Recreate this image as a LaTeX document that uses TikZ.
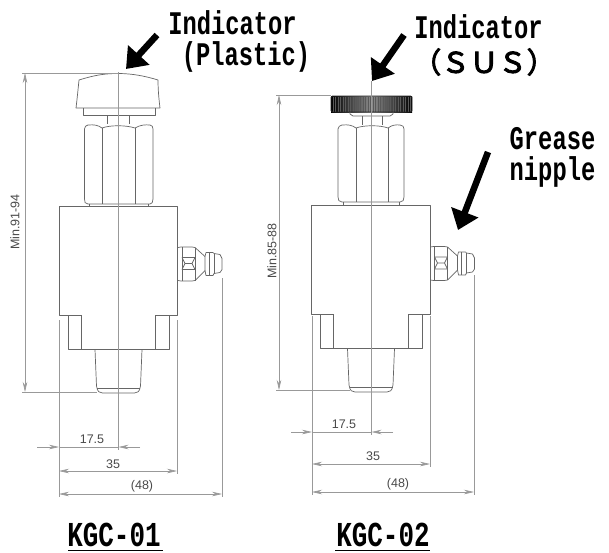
\documentclass[tikz,border=0pt]{standalone}
\usepackage{fontspec}
\setmainfont{Liberation Sans}
\newfontfamily\labelmono{Liberation Mono}
\newfontfamily\cjkgothic{Noto Sans CJK JP}
\usetikzlibrary{arrows.meta}
\definecolor{partline}{HTML}{666666}
\definecolor{dimline}{HTML}{999999}
\definecolor{dimtext}{HTML}{4A4A4A}
\tikzset{
  part/.style={draw=partline,line width=0.7pt,line join=round},
  centerln/.style={draw=dimline,line width=0.6pt},
  extln/.style={draw=dimline,line width=0.6pt},
  dimln/.style={draw=dimline,line width=0.6pt,{Stealth[length=10pt,width=4.5pt]}-{Stealth[length=10pt,width=4.5pt]}},
  dimout/.style={draw=dimline,line width=0.6pt,-{Stealth[length=10pt,width=4.5pt]}},
  dimtxt/.style={font=\fontsize{12.5}{14}\selectfont,text=dimtext,inner sep=0pt},
  callout/.style={draw=black,line width=6.5pt,-{Triangle[length=19pt,width=28pt]}},
  monolabel/.style={font=\labelmono\bfseries\fontsize{33}{36}\selectfont,xscale=0.72,transform shape,inner sep=0pt,text=black},
  fulllabel/.style={font=\cjkgothic\fontsize{28.5}{31}\selectfont,inner sep=0pt,text=black},
  modelname/.style={font=\labelmono\bfseries\fontsize{35}{38}\selectfont,xscale=0.74,transform shape,inner sep=0pt,text=black},
}
\newcommand{\drawnipple}[2]{%
  \begin{scope}[shift={(#1,#2)}]
    \draw[part] (0,-16) -- (3,-16.5) -- (14,-16.5) -- (17,-16) -- (27,-7) -- (27,7) -- (17,17) -- (14,17.5) -- (3,17.5) -- (0,17) ;
    \draw[part] (4,-16.5) -- (4,17.5) (17,-16) -- (17,17);
    \draw[part] (4,-6) -- (7,0) -- (4,6) (17,-6) -- (14,0) -- (17,6) (7,0) -- (14,0) (4,-6) -- (17,-6) (4,6) -- (17,6);
    \draw[part] (27,-7) -- (28,-11) -- (35,-11) -- (36,-10) -- (42,-9) -- (44,-5) -- (44,6) -- (42,9) -- (36,10) -- (35,12) -- (28,12) -- (27,7);
    \draw[part] (31,-11) -- (31,12) (36,-10) -- (36,10);
  \end{scope}}
\newcommand{\drawbody}[1]{%
  \begin{scope}[shift={(#1,0)}]
    \draw[part] (-37.5,109) -- (-59.5,109) -- (-59.5,0) -- (59,0) -- (59,109) -- (37,109);
    \draw[part] (-50.5,109) -- (-50.5,143.5) -- (51,143.5) -- (51,109);
    \draw[part] (-37.5,109) -- (-37.5,143.5) (37,109) -- (37,143.5);
    \draw[part] (-23.5,143.5) -- (-22,180) .. controls (-21,186) and (-19,187) .. (-16,187) -- (16,187) .. controls (19,187) and (21,186) .. (22,180) -- (23.5,143.5);
    \draw[part] (-21.5,182) -- (21.5,182);
  \end{scope}}
\begin{document}
\begin{tikzpicture}[x=1pt,y=-1pt]
\useasboundingbox (0,0) rectangle (609,552);
\fill[white] (0,0) rectangle (609,552);

% ---- left unit KGC-01
\begin{scope}[shift={(0,206)}]\drawbody{118.5}\end{scope}
\drawnipple{178}{263.5}
\draw[part] (79,80) .. controls (95,75) and (105,73.5) .. (118,73.5) .. controls (132,73.5) and (145,76) .. (158,80);
\draw[part] (79,80) .. controls (78,90) and (77,100) .. (76,108) -- (160,108) .. controls (159,100) and (158,90) .. (158,80);
\draw[part] (83,108) -- (83,115) -- (155,115) -- (155,108);
\draw[part] (107,115) -- (107,124) (129,115) -- (129,124);
\draw[part] (88,204) .. controls (85,204) and (84.5,202) .. (84.5,199) -- (84.5,129) .. controls (84.5,127) and (86,125) .. (88,125) .. controls (94,124.5) and (98,125) .. (102,128) .. controls (110,125) and (126,125) .. (135,128) .. controls (140,125) and (145,124.5) .. (150,125) .. controls (152,125) and (153,127) .. (153,129) -- (153,199) .. controls (153,202) and (152,204) .. (150,204) -- cycle;
\draw[part] (102,128) -- (102,204) (135.5,128) -- (135.5,204);
\draw[part] (89,204) -- (89,206) (148,204) -- (148,206);
\coordinate (lctop) at (118.5,72);
\coordinate (lcbot) at (118.5,450);
\draw[centerln] (lctop) -- (lcbot);

\coordinate (lha) at (22,73);
\coordinate (lhb) at (118,73);
\coordinate (lla) at (22,392);
\coordinate (llb) at (97,392);
\draw[extln] (lha) -- (lhb) (lla) -- (llb);
\coordinate (lvt) at (25,73);
\coordinate (lvb) at (25,392);
\draw[dimln] (lvt) -- (lvb);
\node[dimtxt,rotate=90] (lminlabel) at (15,222) {Min.91-94};

\coordinate (lx0) at (59,320);
\coordinate (lx0b) at (59,497);
\coordinate (lx1) at (177,320);
\coordinate (lx1b) at (177,474);
\coordinate (lx2) at (222,278);
\coordinate (lx2b) at (222,497);
\draw[extln] (lx0) -- (lx0b) (lx1) -- (lx1b) (lx2) -- (lx2b);
\coordinate (la1) at (37,447);
\coordinate (la2) at (59,447);
\coordinate (la3) at (140,447);
\coordinate (la4) at (118.5,447);
\draw[dimout] (la1) -- (la2);
\draw[dimout] (la3) -- (la4);
\draw[extln] (la2) -- (la4);
\node[dimtxt] (l175) at (92,439) {17.5};
\coordinate (lb1) at (59,471);
\coordinate (lb2) at (177,471);
\draw[dimln] (lb1) -- (lb2);
\node[dimtxt] (l35) at (113,464) {35};
\coordinate (lc1) at (59,494);
\coordinate (lc2) at (222,494);
\draw[dimln] (lc1) -- (lc2);
\node[dimtxt] (l48) at (142,486) {(48)};

% ---- right unit KGC-02
\begin{scope}[shift={(0,205)}]\drawbody{371}\end{scope}
\drawnipple{430.5}{263}
\shade[left color=black,right color=black,middle color=black!45] (331,96.5) rectangle (412,112);
\foreach \kx in {333,335.5,...,411}{\draw[black!65,line width=0.6pt] (\kx,96.5) -- (\kx,112);}
\draw[black!85,line width=0.8pt,rounded corners=1.5pt] (331,96) rectangle (412,112);
\draw[part] (350,112) -- (350,114) -- (353,116) -- (390,116) -- (393,114) -- (393,112);
\draw[part] (362,116) -- (362,125) (382,116) -- (382,125);
\draw[part] (342,202) .. controls (339,202) and (338,200) .. (338,197) -- (338,129) .. controls (338,127) and (340,125) .. (342,125) .. controls (348,124.5) and (352,125) .. (356,128) .. controls (364,125) and (380,125) .. (388,128) .. controls (392,125) and (396,124.5) .. (400,125) .. controls (403,125) and (404,127) .. (404,129) -- (404,197) .. controls (404,200) and (403,202) .. (400,202) -- cycle;
\draw[part] (356,128) -- (356,202) (388,128) -- (388,202);
\draw[part] (343,202) -- (343,205) (399,202) -- (399,205);
\coordinate (rctop) at (371.5,81);
\coordinate (rcbot) at (371.5,435);
\draw[centerln] (rctop) -- (rcbot);

\coordinate (rha) at (276,95);
\coordinate (rhb) at (331,95);
\coordinate (rla) at (276,390);
\coordinate (rlb) at (350,390);
\draw[extln] (rha) -- (rhb) (rla) -- (rlb);
\coordinate (rvt) at (279,95);
\coordinate (rvb) at (279,390);
\draw[dimln] (rvt) -- (rvb);
\node[dimtxt,rotate=90] (rminlabel) at (272,251) {Min.85-88};

\coordinate (rx0) at (312,316);
\coordinate (rx0b) at (312,495);
\coordinate (rx1) at (430,316);
\coordinate (rx1b) at (430,467);
\coordinate (rx2) at (474,275);
\coordinate (rx2b) at (474,495);
\draw[extln] (rx0) -- (rx0b) (rx1) -- (rx1b) (rx2) -- (rx2b);
\coordinate (ra1) at (291,432);
\coordinate (ra2) at (312,432);
\coordinate (ra3) at (393,432);
\coordinate (ra4) at (371.5,432);
\draw[dimout] (ra1) -- (ra2);
\draw[dimout] (ra3) -- (ra4);
\draw[extln] (ra2) -- (ra4);
\node[dimtxt] (r175) at (344,424) {17.5};
\coordinate (rb1) at (312,464);
\coordinate (rb2) at (430,464);
\draw[dimln] (rb1) -- (rb2);
\node[dimtxt] (r35) at (373,456) {35};
\coordinate (rc1) at (312,492);
\coordinate (rc2) at (474,492);
\draw[dimln] (rc1) -- (rc2);
\node[dimtxt] (r48) at (398,484) {(48)};

% ---- callouts
\node[monolabel] (ind1) at (232.5,23) {Indicator};
\node[monolabel] (pla) at (246,57) {(Plastic)};
\node[monolabel] (ind2) at (478.5,27) {Indicator};
\node[fulllabel] (sus) at (484,62) {\special{pdf:code 2 Tr 0.9 w}（ＳＵＳ）\special{pdf:code 0 Tr 1 w}};
\node[monolabel] (gre) at (552.5,139) {Grease};
\node[monolabel] (nip) at (552.5,172) {nipple};
\coordinate (a1s) at (157,35);
\coordinate (a1e) at (126,69);
\coordinate (a2s) at (404,35);
\coordinate (a2e) at (372,81);
\coordinate (a3s) at (488,152);
\coordinate (a3e) at (458,230);
\draw[callout] (a1s) -- (a1e);
\draw[callout] (a2s) -- (a2e);
\draw[callout] (a3s) -- (a3e);

% ---- model names
\node[modelname,anchor=base] (m1) at (114,546.5) {KGC-01};
\node[modelname,anchor=base] (m2) at (383,546.5) {KGC-02};
\coordinate (u1a) at (68,550.5);
\coordinate (u1b) at (163,550.5);
\coordinate (u2a) at (335,550.5);
\coordinate (u2b) at (430,550.5);
\draw[black,line width=1pt] (u1a) -- (u1b) (u2a) -- (u2b);
\end{tikzpicture}
\end{document}
